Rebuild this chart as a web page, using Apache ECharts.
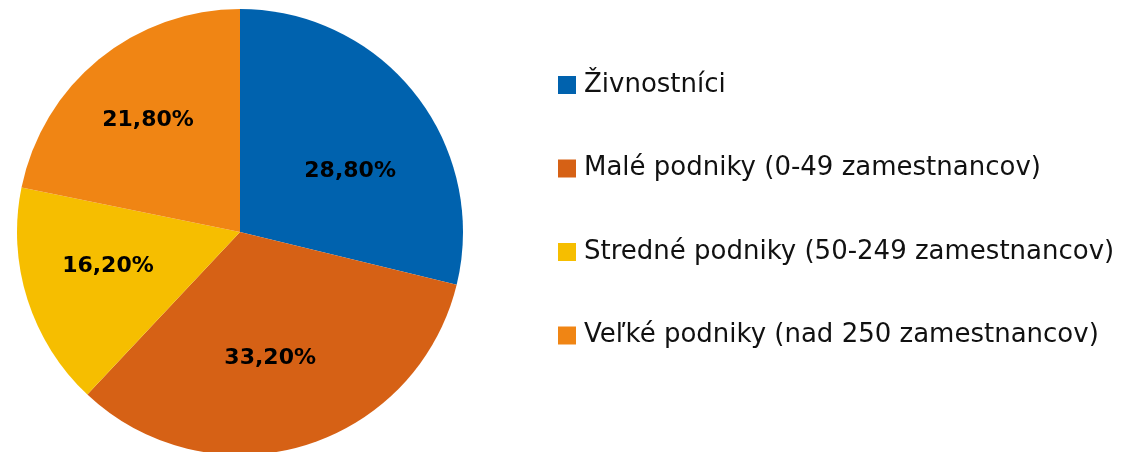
<!DOCTYPE html>
<html>
<head>
<meta charset="utf-8">
<script src="https://cdn.jsdelivr.net/npm/echarts@6/dist/echarts.min.js"></script>
<style>
  html, body { margin: 0; padding: 0; background: #fff; }
  #main { width: 1142px; height: 452px; }
</style>
</head>
<body>
<div id="main"></div>
<script>
const categories = [
    'Živnostníci',
    'Malé podniky (0-49 zamestnancov)',
    'Stredné podniky (50-249 zamestnancov)',
    'Veľké podniky (nad 250 zamestnancov)'
];
const shares = [28.8, 33.2, 16.2, 21.8];
const colors = ['#0062ae', '#d66115', '#f6be00', '#f08514'];

// small nudges so the labels sit where the original put them
const labelNudge = [[2, 24], [-9, -6], [-1, -7], [-5, -5]];

const pieData = categories.map((name, i) => ({
    name: name,
    value: shares[i],
    itemStyle: { color: colors[i] }
}));

const chart = echarts.init(document.getElementById('main'));
chart.setOption({
    backgroundColor: '#ffffff',
    animation: false,
    legend: {
        orient: 'vertical',
        left: 553,
        top: 65,
        icon: 'rect',
        itemWidth: 18,
        itemHeight: 18,
        itemGap: 53.5,
        textStyle: {
            fontFamily: 'DejaVu Sans',
            fontSize: 26,
            color: '#111',
            lineHeight: 30,
            padding: [0, 0, 0, 3]
        },
        data: categories
    },
    series: [
        {
            type: 'pie',
            center: [240, 232],
            radius: 223,
            startAngle: 90,
            clockwise: true,
            label: { show: false },
            labelLine: { show: false },
            emphasis: { disabled: true },
            data: pieData
        },
        {
            // label ring only
            type: 'pie',
            center: [240, 232],
            radius: [46, 223],
            startAngle: 90,
            clockwise: true,
            silent: true,
            itemStyle: { color: 'rgba(0,0,0,0)' },
            label: {
                show: true,
                position: 'inside',
                fontFamily: 'DejaVu Sans',
                fontWeight: 'bold',
                fontSize: 22,
                color: '#000',
                formatter: p => p.value.toFixed(2).replace('.', ',') + '%'
            },
            labelLayout: p => ({ dx: labelNudge[p.dataIndex][0], dy: labelNudge[p.dataIndex][1] }),
            labelLine: { show: false },
            emphasis: { disabled: true },
            data: categories.map((name, i) => ({ name: name, value: shares[i] }))
        }
    ]
});
</script>
</body>
</html>
